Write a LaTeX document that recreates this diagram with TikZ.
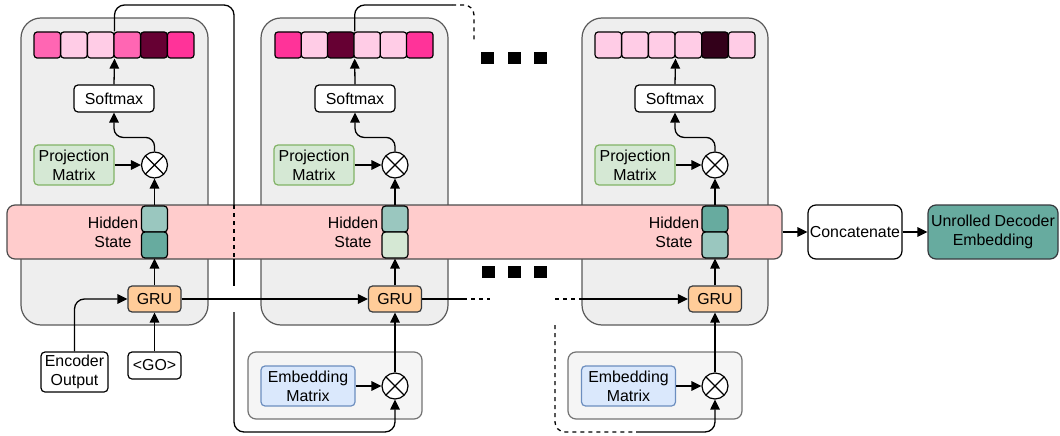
\documentclass[tikz,border=0pt]{standalone}
\usepackage{fontspec}
\setmainfont{Liberation Sans}
\usetikzlibrary{arrows.meta,calc}
\definecolor{pkA}{HTML}{FF66B3}
\definecolor{pkB}{HTML}{FFCCE6}
\definecolor{pkC}{HTML}{660033}
\definecolor{pkD}{HTML}{FF3399}
\definecolor{pkE}{HTML}{33001A}
\definecolor{bandc}{HTML}{FFCCCC}
\definecolor{tealA}{HTML}{9AC7BF}
\definecolor{tealB}{HTML}{67AB9F}
\definecolor{grn}{HTML}{D5E8D4}
\definecolor{grnD}{HTML}{82B366}
\definecolor{blu}{HTML}{DAE8FC}
\definecolor{bluD}{HTML}{6C8EBF}
\definecolor{org}{HTML}{FFCC99}
\definecolor{pnl}{HTML}{EEEEEE}
\definecolor{pnlB}{HTML}{F5F5F5}
\definecolor{edge}{HTML}{36393D}
\tikzset{
  lw/.style={line width=1.3pt},
  panel/.style={draw=black!65, fill=pnl, rounded corners=20pt, line width=1.2pt, inner sep=0},
  subpanel/.style={draw=black!55, fill=pnlB, rounded corners=8pt, line width=1.2pt, inner sep=0},
  cellbox/.style={draw=black, rounded corners=3pt, minimum width=26.5pt, minimum height=26pt, line width=1.2pt, inner sep=0},
  hcell/.style={draw=black, rounded corners=3.5pt, minimum width=26pt, minimum height=26pt, line width=1.2pt, inner sep=0},
  txt/.style={font=\fontsize{15.9}{18.7}\selectfont, align=center, inner sep=0},
  box/.style={txt, draw=black, fill=white, rounded corners=4pt, line width=1.2pt},
  projbox/.style={box, draw=grnD, fill=grn, minimum width=80pt, minimum height=40pt},
  embbox/.style={box, draw=bluD, fill=blu, minimum width=94pt, minimum height=40pt},
  softbox/.style={box, minimum width=80pt, minimum height=27pt},
  grubox/.style={box, draw=edge, fill=org, minimum width=53pt, minimum height=26pt},
  otimes/.style={circle, draw=black, fill=white, line width=1.2pt, minimum size=26pt, inner sep=0,
    path picture={\draw[line width=1.1pt] (path picture bounding box.north west) -- (path picture bounding box.south east)
      (path picture bounding box.north east) -- (path picture bounding box.south west);}},
  dot/.style={fill=black, minimum width=13pt, minimum height=12pt, inner sep=0},
  line/.style={lw, draw=black},
  arrow/.style={lw, draw=black, -{Triangle[length=10pt,width=9.5pt]}},
  dashline/.style={lw, draw=black, dash pattern=on 4pt off 4pt},
}
\begin{document}
\begin{tikzpicture}[x=1pt,y=-1pt]
\useasboundingbox (0,0) rectangle (1060,436);
% big panels
\node[panel, minimum width=187pt, minimum height=307pt] (P1) at (114.5,171.5) {};
\node[panel, minimum width=187pt, minimum height=307pt] (P2) at (354.5,171.5) {};
\node[panel, minimum width=186pt, minimum height=307pt] (P3) at (675,171.5) {};
% embedding sub panels
\node[subpanel, minimum width=174pt, minimum height=67pt] (Q2) at (335,385.5) {};
\node[subpanel, minimum width=174pt, minimum height=67pt] (Q3) at (655,385.5) {};
% cells
\foreach \c [count=\i] in {pkA,pkB,pkB,pkA,pkC,pkD}
  \node[cellbox, fill=\c] (p1c\i) at ({34+26.67*(\i-0.5)},45) {};
\foreach \c [count=\i] in {pkD,pkB,pkC,pkB,pkB,pkD}
  \node[cellbox, fill=\c] (p2c\i) at ({275+26.33*(\i-0.5)},45) {};
\foreach \c [count=\i] in {pkB,pkB,pkB,pkB,pkE,pkB}
  \node[cellbox, fill=\c] (p3c\i) at ({595+26.67*(\i-0.5)},45) {};
% softmax
\node[softbox] (s1) at (114,98.5) {Softmax};
\node[softbox] (s2) at (355,98.5) {Softmax};
\node[softbox] (s3) at (675,98.5) {Softmax};
% projection
\node[projbox] (pr1) at (74,165) {Projection\\Matrix};
\node[projbox] (pr2) at (314,165) {Projection\\Matrix};
\node[projbox] (pr3) at (635,165) {Projection\\Matrix};
% otimes top
\node[otimes] (e1) at (154.5,165) {};
\node[otimes] (t2) at (395,165) {};
\node[otimes] (t3) at (715,165) {};
% band
\node[draw=black!70, fill=bandc, rounded corners=8pt, line width=1.2pt, minimum width=775pt, minimum height=54pt, inner sep=0] (band) at (394.5,232) {};
% hidden cells
\node[hcell, fill=tealA] (h1a) at (154.5,219) {};
\node[hcell, fill=tealB] (h1b) at (154.5,245) {};
\node[hcell, fill=tealA] (h2a) at (395,219) {};
\node[hcell, fill=grn] (h2b) at (395,245) {};
\node[hcell, fill=tealB] (h3a) at (715,219) {};
\node[hcell, fill=tealA] (h3b) at (715,245) {};
\node[txt] (ht1) at (113,232) {Hidden\\State};
\node[txt] (ht2) at (353,232) {Hidden\\State};
\node[txt] (ht3) at (674,232) {Hidden\\State};
% GRU
\node[grubox] (g1) at (154.5,299) {GRU};
\node[grubox] (g2) at (395,299) {GRU};
\node[grubox] (g3) at (715,299) {GRU};
% inputs
\node[box, minimum width=67pt, minimum height=40pt] (enc) at (74.5,372) {Encoder\\Output};
\node[box, minimum width=53pt, minimum height=27pt] (go) at (154.5,365.5) {\textless GO\textgreater};
\node[embbox] (em2) at (308,386) {Embedding\\Matrix};
\node[embbox] (em3) at (628.5,386) {Embedding\\Matrix};
\node[otimes] (e2) at (395,386) {};
\node[otimes] (e3) at (715,386) {};
% outputs
\node[box, minimum width=94pt, minimum height=54pt, rounded corners=8pt] (cat) at (855,232) {Concatenate};
\node[box, fill=tealB, draw=edge, minimum width=130pt, minimum height=54pt, rounded corners=8pt] (unr) at (993,232) {Unrolled Decoder\\Embedding};
% dots
\node[dot] (d1) at (487.5,58) {};
\node[dot] (d2) at (514,58) {};
\node[dot] (d3) at (540.5,58) {};
\node[dot] (d4) at (488,272) {};
\node[dot] (d5) at (514,272) {};
\node[dot] (d6) at (540.5,272) {};
% coordinates for connectors
\coordinate (c1top) at (234,5);
\coordinate (c1bt) at (234,205);
\coordinate (c1bb) at (234,259);
\coordinate (c1ga) at (234,286);
\coordinate (c1gb) at (234,312);
\coordinate (c1bot) at (234,432);
\coordinate (c2top) at (452,5);
\coordinate (c2cor) at (474,5);
\coordinate (c2end) at (474,43);
\coordinate (g2s) at (463,299);
\coordinate (g2d) at (490,299);
\coordinate (g3d) at (555,299);
\coordinate (g3s) at (580,299);
\coordinate (c3a) at (555,325);
\coordinate (c3b) at (555,432);
\coordinate (c3c) at (636,432);
% panel connectors
\foreach \k/\e/\s/\c/\h/\pr/\g in {1/e1/s1/p1c3/h1a/pr1/g1, 2/t2/s2/p2c3/h2a/pr2/g2, 3/t3/s3/p3c3/h3a/pr3/g3}{
  \draw[arrow] (\s.north) -- (\c.south east);
  \draw[arrow, rounded corners=9pt] (\e.north) -- ++(0,-14) -| (\s.south);
  \draw[arrow] (\pr.east) -- (\e.west);
  \draw[arrow] (\h.north) -- (\e.south);
}
\draw[arrow] (g1.north) -- (h1b.south);
\draw[arrow] (g2.north) -- (h2b.south);
\draw[arrow] (g3.north) -- (h3b.south);
\draw[arrow] (go.north) -- (g1.south);
\draw[arrow, rounded corners=10pt] (enc.north) |- (g1.west);
\draw[arrow] (em2.east) -- (e2.west);
\draw[arrow] (em3.east) -- (e3.west);
\draw[arrow] (e2.north) -- (g2.south);
\draw[arrow] (e3.north) -- (g3.south);
% recurrent GRU chain
\draw[arrow] (g1.east) -- (g2.west);
\draw[line] (g2.east) -- (g2s);
\draw[dashline] (g2s) -- (g2d);
\draw[dashline] (g3d) -- (g3s);
\draw[arrow] (g3s) -- (g3.west);
% feedback connector 1
\draw[line, rounded corners=10pt] (p1c3.north east) |- (c1top) -- (c1bt);
\draw[dashline] (c1bt) -- (c1bb);
\draw[line] (c1bb) -- (c1ga);
\draw[arrow, rounded corners=10pt] (c1gb) -- (c1bot) -| (e2.south);
% feedback connector 2
\draw[line, rounded corners=10pt] (p2c3.north east) |- (c2top);
\draw[dashline, rounded corners=10pt] (c2top) -- (c2cor) -- (c2end);
% feedback connector 3
\draw[dashline, rounded corners=10pt] (c3a) -- (c3b) -- (c3c);
\draw[arrow, rounded corners=10pt] (c3c) -| (e3.south);
% outputs
\draw[arrow] (band.east) -- (cat.west);
\draw[arrow] (cat.east) -- (unr.west);
\end{tikzpicture}
\end{document}
